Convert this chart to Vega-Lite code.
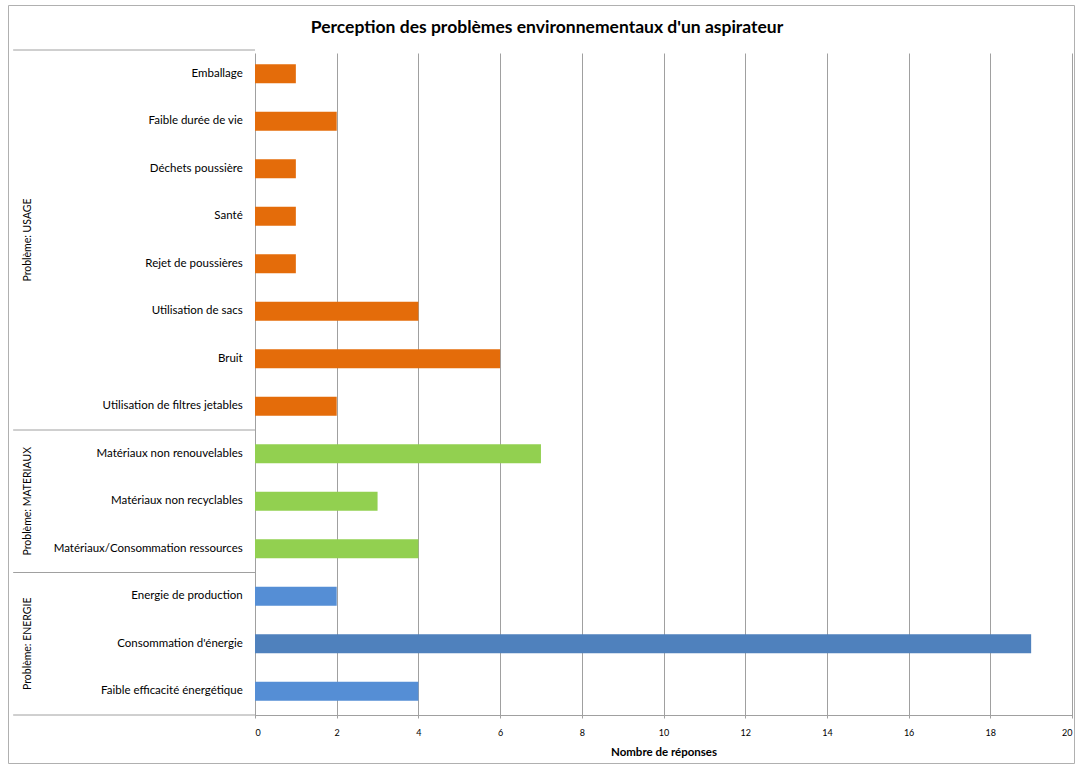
{
  "$schema": "https://vega.github.io/schema/vega-lite/v6.json",
  "width": 1066,
  "height": 758,
  "autosize": {"type": "none"},
  "padding": {"left": 8, "top": 5, "right": 5, "bottom": 3},
  "background": "white",
  "config": {
    "view": {"stroke": "#b0b0b0", "strokeWidth": 1},
    "font": "Lato"
  },
  "title": {
    "text": "Perception  des problèmes environnementaux d'un aspirateur",
    "font": "Lato",
    "fontSize": 17.5,
    "fontWeight": "bold",
    "color": "#000000",
    "anchor": "middle",
    "offset": -31,
    "dx": 6
  },
  "data": {
    "values": [
      {"cat": "Emballage", "value": 1, "group": "Problème: USAGE"},
      {"cat": "Faible durée de vie", "value": 2, "group": "Problème: USAGE"},
      {"cat": "Déchets poussière", "value": 1, "group": "Problème: USAGE"},
      {"cat": "Santé", "value": 1, "group": "Problème: USAGE"},
      {"cat": "Rejet de poussières", "value": 1, "group": "Problème: USAGE"},
      {"cat": "Utilisation de sacs", "value": 4, "group": "Problème: USAGE"},
      {"cat": "Bruit", "value": 6, "group": "Problème: USAGE"},
      {"cat": "Utilisation de filtres jetables", "value": 2, "group": "Problème: USAGE"},
      {"cat": "Matériaux non renouvelables", "value": 7, "group": "Problème: MATERIAUX"},
      {"cat": "Matériaux non recyclables", "value": 3, "group": "Problème: MATERIAUX"},
      {"cat": "Matériaux/Consommation ressources", "value": 4, "group": "Problème: MATERIAUX"},
      {"cat": "Energie de production", "value": 2, "group": "Problème: ENERGIE"},
      {"cat": "Consommation d'énergie", "value": 19, "group": "Problème: ENERGIE"},
      {"cat": "Faible efficacité énergétique", "value": 4, "group": "Problème: ENERGIE"}
    ]
  },
  "layer": [
    {
      "mark": {"type": "bar", "height": {"band": 0.4}},
      "encoding": {
        "y": {
          "field": "cat", "type": "nominal", "sort": null,
          "scale": {"range": [45, 710], "paddingInner": 0, "paddingOuter": 0},
          "axis": null
        },
        "x": {
          "field": "value", "type": "quantitative",
          "scale": {"domain": [0, 20], "range": [247, 1064], "nice": false, "zero": true},
          "axis": {
            "values": [0, 2, 4, 6, 8, 10, 12, 14, 16, 18, 20],
            "grid": true,
            "gridColor": "#a0a0a0",
            "gridWidth": 1,
            "domain": true,
            "domainColor": "#a0a0a0",
            "ticks": false,
            "offset": -48,
            "labelFont": "Lato",
            "labelFontSize": 9,
            "labelColor": "#000000",
            "labelPadding": 13,
            "title": "Nombre de réponses",
            "titleFont": "Lato",
            "titleFontSize": 11.5,
            "titleFontWeight": "bold",
            "titleColor": "#000000",
            "titlePadding": 9
          }
        },
        "color": {
          "condition": {"test": "datum.cat === \"Consommation d'énergie\"", "value": "#4F81BD"},
          "field": "group", "type": "nominal",
          "scale": {
            "domain": ["Problème: USAGE", "Problème: MATERIAUX", "Problème: ENERGIE"],
            "range": ["#E46C0A", "#92D050", "#558ED5"]
          },
          "legend": null
        }
      }
    },
    {
      "mark": {"type": "text", "align": "right", "baseline": "middle", "fontSize": 11.5, "font": "Lato", "color": "#000000"},
      "encoding": {
        "y": {"field": "cat", "type": "nominal", "sort": null},
        "x": {"datum": -0.3},
        "text": {"field": "cat"}
      }
    },
    {
      "transform": [{"filter": "indexof(['Emballage', 'Matériaux non renouvelables', 'Energie de production'], datum.cat) >= 0"}],
      "mark": {"type": "rule", "color": "#a0a0a0", "strokeWidth": 1},
      "encoding": {
        "y": {"field": "cat", "type": "nominal", "sort": null, "bandPosition": 0},
        "x": {"datum": -5.92},
        "x2": {"datum": 0}
      }
    },
    {
      "transform": [{"filter": "datum.cat === 'Faible efficacité énergétique'"}],
      "mark": {"type": "rule", "color": "#a0a0a0", "strokeWidth": 1},
      "encoding": {
        "y": {"field": "cat", "type": "nominal", "sort": null, "bandPosition": 1},
        "x": {"datum": -5.92},
        "x2": {"datum": 0}
      }
    },
    {
      "transform": [{"filter": "datum.cat === 'Santé'"}],
      "mark": {"type": "text", "angle": 270, "align": "center", "baseline": "middle", "fontSize": 10.5, "font": "Lato", "color": "#000000"},
      "encoding": {
        "y": {"field": "cat", "type": "nominal", "sort": null, "bandPosition": 1},
        "x": {"datum": -5.56},
        "text": {"field": "group"}
      }
    },
    {
      "transform": [{"filter": "datum.cat === 'Matériaux non recyclables' || datum.cat === \"Consommation d'énergie\""}],
      "mark": {"type": "text", "angle": 270, "align": "center", "baseline": "middle", "fontSize": 10.5, "font": "Lato", "color": "#000000"},
      "encoding": {
        "y": {"field": "cat", "type": "nominal", "sort": null, "bandPosition": 0.5},
        "x": {"datum": -5.56},
        "text": {"field": "group"}
      }
    }
  ]
}
